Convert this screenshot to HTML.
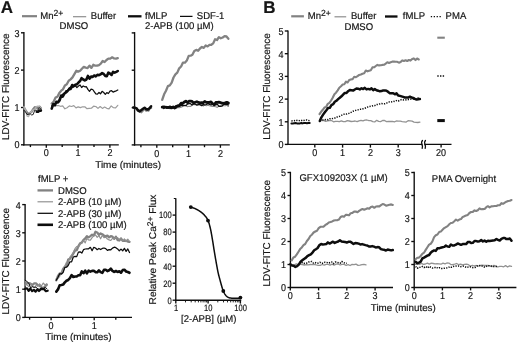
<!DOCTYPE html>
<html><head><meta charset="utf-8"><title>Figure</title>
<style>
html,body{margin:0;padding:0;background:#fff;}
body{width:520px;height:347px;overflow:hidden;font-family:"Liberation Sans",sans-serif;}
svg{display:block;}
svg text{text-rendering:geometricPrecision;font-family:"Liberation Sans",sans-serif;fill:#141414;stroke:#141414;stroke-width:0.18;}
</style></head><body>
<svg width="520" height="347" viewBox="0 0 520 347">
<defs><filter id="bl" x="0" y="0" width="520" height="347" filterUnits="userSpaceOnUse"><feGaussianBlur stdDeviation="0.42"/></filter></defs>
<rect width="520" height="347" fill="#ffffff"/>
<g filter="url(#bl)">
<rect width="520" height="347" fill="#ffffff"/>
<text transform="translate(0.8 12.8) scale(1.0 1)" text-anchor="start" font-size="17" font-weight="bold">A</text>
<text transform="translate(263.3 12.8) scale(1.0 1)" text-anchor="start" font-size="17" font-weight="bold">B</text>
<line x1="22.0" y1="16.2" x2="37.0" y2="16.2" stroke="#828282" stroke-width="2.2"/>
<text transform="translate(40.2 18.6) scale(0.975 1)" text-anchor="start" font-size="9.8" >Mn<tspan dy="-2.7" font-size="8.8">2+</tspan></text>
<line x1="73.0" y1="16.7" x2="86.2" y2="16.7" stroke="#8e8e8e" stroke-width="1.2"/>
<text transform="translate(90.8 18.6) scale(0.975 1)" text-anchor="start" font-size="9.8" >Buffer</text>
<text transform="translate(59.6 29.3) scale(0.975 1)" text-anchor="start" font-size="9.8" >DMSO</text>
<line x1="128.0" y1="16.3" x2="141.5" y2="16.3" stroke="#0c0c0c" stroke-width="2.3"/>
<text transform="translate(145.0 18.6) scale(0.975 1)" text-anchor="start" font-size="9.8" >fMLP</text>
<line x1="180.0" y1="16.4" x2="192.5" y2="16.4" stroke="#0c0c0c" stroke-width="1.25"/>
<text transform="translate(196.8 18.6) scale(0.975 1)" text-anchor="start" font-size="9.8" >SDF-1</text>
<text transform="translate(145.0 29.3) scale(0.975 1)" text-anchor="start" font-size="9.8" >2-APB (100 µM)</text>
<line x1="23.9" y1="32.1" x2="23.9" y2="145.5" stroke="#0c0c0c" stroke-width="1.35"/>
<line x1="23.2" y1="144.8" x2="118.8" y2="144.8" stroke="#0c0c0c" stroke-width="1.35"/>
<line x1="21.0" y1="144.8" x2="23.9" y2="144.8" stroke="#0c0c0c" stroke-width="1.35"/>
<text transform="translate(19.5 148.4) scale(0.9 1)" text-anchor="end" font-size="10.0" >0</text>
<line x1="21.0" y1="107.5" x2="23.9" y2="107.5" stroke="#0c0c0c" stroke-width="1.35"/>
<text transform="translate(19.5 111.4) scale(0.9 1)" text-anchor="end" font-size="10.0" >1</text>
<line x1="21.0" y1="70.1" x2="23.9" y2="70.1" stroke="#0c0c0c" stroke-width="1.35"/>
<text transform="translate(19.5 74.4) scale(0.9 1)" text-anchor="end" font-size="10.0" >2</text>
<line x1="21.0" y1="32.8" x2="23.9" y2="32.8" stroke="#0c0c0c" stroke-width="1.35"/>
<text transform="translate(19.5 37.4) scale(0.9 1)" text-anchor="end" font-size="10.0" >3</text>
<line x1="46.3" y1="144.8" x2="46.3" y2="147.7" stroke="#0c0c0c" stroke-width="1.35"/>
<text transform="translate(46.3 156.4) scale(0.9 1)" text-anchor="middle" font-size="10.0" >0</text>
<line x1="78.1" y1="144.8" x2="78.1" y2="147.7" stroke="#0c0c0c" stroke-width="1.35"/>
<text transform="translate(78.1 156.4) scale(0.9 1)" text-anchor="middle" font-size="10.0" >1</text>
<line x1="109.9" y1="144.8" x2="109.9" y2="147.7" stroke="#0c0c0c" stroke-width="1.35"/>
<text transform="translate(109.9 156.4) scale(0.9 1)" text-anchor="middle" font-size="10.0" >2</text>
<line x1="30.4" y1="144.8" x2="30.4" y2="147.1" stroke="#0c0c0c" stroke-width="1.35"/>
<line x1="62.2" y1="144.8" x2="62.2" y2="147.1" stroke="#0c0c0c" stroke-width="1.35"/>
<line x1="94.0" y1="144.8" x2="94.0" y2="147.1" stroke="#0c0c0c" stroke-width="1.35"/>
<text transform="translate(9.0 86.7) rotate(-90) scale(1.005 1)" text-anchor="middle" font-size="9.9">LDV-FITC Fluorescence</text>
<text transform="translate(95.2 167.7) scale(1.015 1)" text-anchor="start" font-size="9.8" >Time (minutes)</text>
<path d="M24.0 107.6L25.6 110.4L27.1 112.7L28.6 114.1L30.2 112.9L31.7 111.6L33.2 109.2L34.8 107.1L36.3 107.7L37.8 107.9L39.4 106.6L40.9 108.3" stroke="#828282" stroke-width="2.3" fill="none" stroke-linejoin="round" stroke-linecap="round"/>
<path d="M36.8 111.8L38.1 111.8L39.5 110.6L40.9 110.6" stroke="#0c0c0c" stroke-width="2.6" fill="none" stroke-linejoin="round" stroke-linecap="round"/>
<path d="M24.0 106.6L25.6 110.2L27.1 116.1L28.6 116.6L30.2 112.8L31.7 111.2L33.2 109.8L34.8 109.2L36.3 106.7L37.8 106.1L39.4 106.6L40.9 108.6" stroke="#b0b0b0" stroke-width="1.3" fill="none" stroke-linejoin="round" stroke-linecap="round"/>
<path d="M24.0 110.3L25.6 112.1L27.1 114.6L28.6 114.3L30.2 113.8L31.7 115.0L33.2 114.5L34.8 110.1L36.3 110.3L37.8 110.1L39.4 107.6L40.9 109.2" stroke="#0c0c0c" stroke-width="0.9" fill="none" stroke-linejoin="round" stroke-linecap="round"/>
<path d="M51.7 106.0L53.9 105.7L56.1 105.7L58.3 105.5L60.5 106.3L62.7 105.9L64.9 108.8L67.1 107.7L69.3 105.9L71.5 106.5L73.8 105.6L76.0 107.9L78.2 106.9L80.4 107.6L82.6 106.8L84.8 106.8L87.0 108.7L89.2 108.4L91.4 108.2L93.6 106.2L95.8 106.5L98.0 108.4L100.2 106.5L102.4 108.4L104.6 107.0L106.8 108.3L109.0 108.8L111.2 105.9L113.4 107.7L115.6 107.8L117.8 105.3" stroke="#9c9c9c" stroke-width="1.2" fill="none" stroke-linejoin="round" stroke-linecap="round"/>
<path d="M51.7 106.2L53.3 104.1L54.9 103.7L56.4 103.1L58.0 102.6L59.6 98.3L61.2 97.0L62.7 94.0L64.3 93.8L65.9 90.7L67.5 91.2L69.0 88.1L70.6 87.1L72.2 87.7L73.8 86.8L75.3 85.7L76.9 87.5L78.5 86.1L80.1 85.0L81.6 87.5L83.2 86.0L84.8 86.8L86.4 86.7L87.9 89.4L89.5 91.3L91.1 89.2L92.7 89.5L94.2 91.7L95.8 93.9L97.4 94.1L99.0 92.5L100.5 93.8L102.1 91.3L103.7 92.5L105.3 94.3L106.8 92.6L108.4 93.5L110.0 91.1L111.6 90.7L113.1 92.1L114.7 91.4L116.3 90.8L117.8 90.0" stroke="#0c0c0c" stroke-width="1.25" fill="none" stroke-linejoin="round" stroke-linecap="round"/>
<path d="M51.7 103.6L53.6 101.8L55.5 97.6L57.4 96.8L59.3 92.9L61.2 90.7L63.0 89.3L64.9 85.4L66.8 84.3L68.7 80.7L70.6 79.4L72.5 77.4L74.4 74.1L76.3 70.7L78.2 71.6L80.1 70.8L81.9 68.8L83.8 66.9L85.7 67.6L87.6 68.0L89.5 65.6L91.4 67.9L93.3 64.8L95.2 65.7L97.1 65.7L99.0 65.1L100.8 63.7L102.7 61.0L104.6 62.0L106.5 60.0L108.4 58.6L110.3 58.6L112.2 57.3L114.1 58.4L116.0 58.6L117.8 58.1" stroke="#828282" stroke-width="2.3" fill="none" stroke-linejoin="round" stroke-linecap="round"/>
<path d="M51.7 108.6L53.3 104.1L54.9 105.3L56.4 101.8L58.0 102.3L59.6 100.4L61.2 95.5L62.7 96.6L64.3 93.6L65.9 92.5L67.5 91.0L69.0 89.3L70.6 88.9L72.2 85.0L73.8 86.2L75.3 84.7L76.9 84.3L78.5 82.5L80.1 81.0L81.6 78.2L83.2 79.5L84.8 80.4L86.4 79.5L87.9 75.9L89.5 78.7L91.1 76.6L92.7 76.9L94.2 75.5L95.8 76.4L97.4 74.8L99.0 75.2L100.5 74.4L102.1 73.1L103.7 74.0L105.3 75.9L106.8 76.3L108.4 72.6L110.0 73.6L111.6 74.9L113.1 71.8L114.7 72.6L116.3 71.9L117.8 71.0" stroke="#0c0c0c" stroke-width="2.6" fill="none" stroke-linejoin="round" stroke-linecap="round"/>
<line x1="134.6" y1="32.1" x2="134.6" y2="145.6" stroke="#0c0c0c" stroke-width="1.35"/>
<line x1="133.9" y1="144.9" x2="229.8" y2="144.9" stroke="#0c0c0c" stroke-width="1.35"/>
<line x1="131.7" y1="144.9" x2="134.6" y2="144.9" stroke="#0c0c0c" stroke-width="1.35"/>
<line x1="131.7" y1="107.6" x2="134.6" y2="107.6" stroke="#0c0c0c" stroke-width="1.35"/>
<line x1="131.7" y1="70.2" x2="134.6" y2="70.2" stroke="#0c0c0c" stroke-width="1.35"/>
<line x1="131.7" y1="32.9" x2="134.6" y2="32.9" stroke="#0c0c0c" stroke-width="1.35"/>
<line x1="156.8" y1="144.9" x2="156.8" y2="147.8" stroke="#0c0c0c" stroke-width="1.35"/>
<text transform="translate(156.8 156.5) scale(0.9 1)" text-anchor="middle" font-size="10.0" >0</text>
<line x1="188.6" y1="144.9" x2="188.6" y2="147.8" stroke="#0c0c0c" stroke-width="1.35"/>
<text transform="translate(188.6 156.5) scale(0.9 1)" text-anchor="middle" font-size="10.0" >1</text>
<line x1="220.4" y1="144.9" x2="220.4" y2="147.8" stroke="#0c0c0c" stroke-width="1.35"/>
<text transform="translate(220.4 156.5) scale(0.9 1)" text-anchor="middle" font-size="10.0" >2</text>
<line x1="140.9" y1="144.9" x2="140.9" y2="147.2" stroke="#0c0c0c" stroke-width="1.35"/>
<line x1="172.7" y1="144.9" x2="172.7" y2="147.2" stroke="#0c0c0c" stroke-width="1.35"/>
<line x1="204.5" y1="144.9" x2="204.5" y2="147.2" stroke="#0c0c0c" stroke-width="1.35"/>
<path d="M133.9 107.7L135.1 108.3L136.4 108.1L137.6 110.4L138.8 111.1L140.0 111.0L141.3 112.2L142.5 110.8L143.7 109.7L144.9 108.5L146.2 110.6L147.4 110.0L148.6 110.6L149.8 108.0L151.1 107.9" stroke="#828282" stroke-width="2.3" fill="none" stroke-linejoin="round" stroke-linecap="round"/>
<path d="M133.3 107.6L134.9 107.7L136.5 108.3L138.1 110.4L139.7 111.4L141.4 110.0L143.0 108.8L144.6 107.7L146.2 109.2L147.8 109.6L149.5 108.3L151.1 106.3" stroke="#0c0c0c" stroke-width="2.5" fill="none" stroke-linejoin="round" stroke-linecap="round"/>
<path d="M162.2 107.4L163.8 106.6L165.4 106.6L166.9 106.3L168.5 107.9L170.1 108.2L171.7 108.5L173.2 108.4L174.8 107.2L176.4 108.3L178.0 107.4L179.5 107.6L181.1 107.1L182.7 106.4L184.3 105.1L185.8 105.3L187.4 106.7L189.0 106.3L190.6 106.5L192.1 104.8L193.7 104.6L195.3 104.6L196.9 104.6L198.4 104.8L200.0 104.4L201.6 104.7L203.2 106.1L204.7 105.0L206.3 105.7L207.9 105.2L209.5 105.7L211.0 106.1L212.6 106.5L214.2 106.5L215.8 106.8L217.3 107.4L218.9 105.9L220.5 105.6L222.1 105.1L223.6 105.6L225.2 105.8L226.8 105.2L228.4 106.5" stroke="#8e8e8e" stroke-width="1.15" fill="none" stroke-linejoin="round" stroke-linecap="round"/>
<path d="M162.2 99.9L164.1 94.3L166.0 90.7L167.9 86.1L169.8 85.4L171.7 82.7L173.5 77.5L175.4 74.3L177.3 72.6L179.2 68.3L181.1 66.5L183.0 62.6L184.9 62.7L186.8 60.6L188.7 55.8L190.6 55.7L192.4 54.7L194.3 51.0L196.2 49.9L198.1 50.8L200.0 48.5L201.9 46.9L203.8 47.9L205.7 45.4L207.6 46.4L209.5 44.9L211.3 44.8L213.2 43.4L215.1 39.2L217.0 40.0L218.9 37.1L220.8 38.3L222.7 37.5L224.6 36.1L226.5 36.5L228.4 38.8" stroke="#828282" stroke-width="2.3" fill="none" stroke-linejoin="round" stroke-linecap="round"/>
<path d="M162.2 106.5L163.8 108.6L165.4 107.3L166.9 108.4L168.5 106.7L170.1 108.7L171.7 106.9L173.2 106.9L174.8 106.3L176.4 105.5L178.0 106.7L179.5 106.4L181.1 105.1L182.7 105.7L184.3 105.7L185.8 105.7L187.4 104.1L189.0 103.7L190.6 103.7L192.1 105.1L193.7 103.6L195.3 104.3L196.9 105.1L198.4 104.7L200.0 104.7L201.6 105.6L203.2 104.6L204.7 104.9L206.3 104.5L207.9 103.7L209.5 104.3L211.0 105.0L212.6 104.2L214.2 103.8L215.8 105.0L217.3 104.2L218.9 106.3L220.5 106.3L222.1 106.2L223.6 104.3L225.2 104.3L226.8 104.1L228.4 105.0" stroke="#0c0c0c" stroke-width="1.25" fill="none" stroke-linejoin="round" stroke-linecap="round"/>
<path d="M162.2 107.2L163.8 107.0L165.4 107.2L166.9 107.3L168.5 107.5L170.1 106.9L171.7 107.9L173.2 107.0L174.8 108.0L176.4 106.6L178.0 105.7L179.5 105.4L181.1 103.2L182.7 103.5L184.3 102.0L185.8 101.1L187.4 102.6L189.0 101.2L190.6 101.1L192.1 101.4L193.7 103.1L195.3 102.3L196.9 101.7L198.4 102.4L200.0 102.8L201.6 102.6L203.2 102.8L204.7 101.4L206.3 102.4L207.9 102.5L209.5 102.3L211.0 101.8L212.6 103.7L214.2 104.8L215.8 102.5L217.3 102.3L218.9 102.2L220.5 102.6L222.1 103.2L223.6 103.4L225.2 102.9L226.8 102.3L228.4 103.1" stroke="#0c0c0c" stroke-width="2.8" fill="none" stroke-linejoin="round" stroke-linecap="round"/>
<text transform="translate(38.0 181.6) scale(0.975 1)" text-anchor="start" font-size="9.8" >fMLP +</text>
<line x1="37.5" y1="190.4" x2="53.0" y2="190.4" stroke="#828282" stroke-width="2.3"/>
<text transform="translate(58.0 193.9) scale(0.975 1)" text-anchor="start" font-size="9.8" >DMSO</text>
<line x1="37.5" y1="201.8" x2="53.0" y2="201.8" stroke="#8e8e8e" stroke-width="1.15"/>
<text transform="translate(58.0 205.3) scale(0.975 1)" text-anchor="start" font-size="9.8" >2-APB (10 µM)</text>
<line x1="37.5" y1="213.3" x2="53.0" y2="213.3" stroke="#0c0c0c" stroke-width="1.25"/>
<text transform="translate(58.0 216.8) scale(0.975 1)" text-anchor="start" font-size="9.8" >2-APB (30 µM)</text>
<line x1="37.5" y1="224.8" x2="53.0" y2="224.8" stroke="#0c0c0c" stroke-width="2.6"/>
<text transform="translate(58.0 228.2) scale(0.975 1)" text-anchor="start" font-size="9.8" >2-APB (100 µM)</text>
<line x1="25.1" y1="203.9" x2="25.1" y2="318.0" stroke="#0c0c0c" stroke-width="1.35"/>
<line x1="24.5" y1="317.4" x2="132.0" y2="317.4" stroke="#0c0c0c" stroke-width="1.35"/>
<line x1="22.2" y1="317.4" x2="25.1" y2="317.4" stroke="#0c0c0c" stroke-width="1.35"/>
<text transform="translate(20.7 321.0) scale(0.9 1)" text-anchor="end" font-size="10.0" >0</text>
<line x1="22.2" y1="289.2" x2="25.1" y2="289.2" stroke="#0c0c0c" stroke-width="1.35"/>
<text transform="translate(20.7 293.0) scale(0.9 1)" text-anchor="end" font-size="10.0" >1</text>
<line x1="22.2" y1="261.0" x2="25.1" y2="261.0" stroke="#0c0c0c" stroke-width="1.35"/>
<text transform="translate(20.7 265.0) scale(0.9 1)" text-anchor="end" font-size="10.0" >2</text>
<line x1="22.2" y1="232.8" x2="25.1" y2="232.8" stroke="#0c0c0c" stroke-width="1.35"/>
<text transform="translate(20.7 237.0) scale(0.9 1)" text-anchor="end" font-size="10.0" >3</text>
<line x1="22.2" y1="204.6" x2="25.1" y2="204.6" stroke="#0c0c0c" stroke-width="1.35"/>
<text transform="translate(20.7 209.0) scale(0.9 1)" text-anchor="end" font-size="10.0" >4</text>
<line x1="51.1" y1="317.4" x2="51.1" y2="320.3" stroke="#0c0c0c" stroke-width="1.35"/>
<text transform="translate(51.1 329.0) scale(0.9 1)" text-anchor="middle" font-size="10.0" >0</text>
<line x1="94.2" y1="317.4" x2="94.2" y2="320.3" stroke="#0c0c0c" stroke-width="1.35"/>
<text transform="translate(94.2 329.0) scale(0.9 1)" text-anchor="middle" font-size="10.0" >1</text>
<line x1="29.6" y1="317.4" x2="29.6" y2="319.7" stroke="#0c0c0c" stroke-width="1.35"/>
<line x1="72.7" y1="317.4" x2="72.7" y2="319.7" stroke="#0c0c0c" stroke-width="1.35"/>
<line x1="115.8" y1="317.4" x2="115.8" y2="319.7" stroke="#0c0c0c" stroke-width="1.35"/>
<text transform="translate(8.6 261.2) rotate(-90) scale(1.005 1)" text-anchor="middle" font-size="9.9">LDV-FITC Fluorescence</text>
<text transform="translate(78.5 340.2) scale(1.02 1)" text-anchor="middle" font-size="9.8" >Time (minutes)</text>
<path d="M25.2 284.8L27.0 283.2L28.8 283.1L30.6 283.8L32.4 284.9L34.2 283.3L36.0 283.4L37.8 285.0L39.6 285.8L41.4 287.2L43.2 288.3L45.0 286.5L46.8 284.8" stroke="#828282" stroke-width="2.3" fill="none" stroke-linejoin="round" stroke-linecap="round"/>
<path d="M25.2 280.9L27.0 284.9L28.8 286.7L30.6 283.2L32.4 286.7L34.2 287.7L36.0 285.5L37.8 286.3L39.6 283.8L41.4 286.0L43.2 283.0L45.0 285.0L46.8 283.8" stroke="#8e8e8e" stroke-width="1.15" fill="none" stroke-linejoin="round" stroke-linecap="round"/>
<path d="M25.2 280.3L27.0 281.5L28.8 283.2L30.6 287.8L32.4 286.6L34.2 287.3L36.0 287.1L37.8 289.0L39.6 289.2L41.4 288.1L43.2 288.8L45.0 287.4L46.8 288.6" stroke="#0c0c0c" stroke-width="1.0" fill="none" stroke-linejoin="round" stroke-linecap="round"/>
<path d="M25.2 288.7L27.0 288.3L28.7 290.8L30.4 288.5L32.1 291.1L33.9 289.9L35.6 291.6L37.3 289.4L39.0 291.0L40.8 289.2L42.5 288.9L44.2 289.2L45.9 291.2L47.7 290.7" stroke="#0c0c0c" stroke-width="2.2" fill="none" stroke-linejoin="round" stroke-linecap="round"/>
<path d="M56.3 280.4L58.0 275.9L59.7 273.5L61.4 273.7L63.1 269.0L64.8 266.8L66.5 266.1L68.2 259.6L69.9 258.9L71.6 256.5L73.3 253.6L75.0 250.6L76.7 250.2L78.4 246.2L80.1 243.4L81.8 242.6L83.5 239.8L85.2 238.5L86.9 236.2L88.6 237.4L90.4 236.1L92.1 234.7L93.8 235.5L95.5 231.8L97.2 232.5L98.9 234.8L100.6 233.5L102.3 234.2L104.0 235.6L105.7 236.3L107.4 235.6L109.1 237.4L110.8 236.2L112.5 236.7L114.2 238.9L115.9 236.7L117.6 240.1L119.3 240.5L121.0 238.4L122.7 240.8L124.4 240.9L126.1 240.7L127.8 241.6L129.5 241.9" stroke="#828282" stroke-width="2.3" fill="none" stroke-linejoin="round" stroke-linecap="round"/>
<path d="M56.3 278.8L58.0 278.5L59.7 276.3L61.4 272.0L63.1 271.5L64.8 265.9L66.5 262.2L68.2 262.2L69.9 257.2L71.6 255.1L73.3 252.3L75.0 248.7L76.7 246.5L78.4 247.2L80.1 244.1L81.8 242.6L83.5 240.3L85.2 242.9L86.9 238.4L88.6 240.0L90.4 240.1L92.1 237.6L93.8 235.8L95.5 234.9L97.2 237.3L98.9 235.6L100.6 238.8L102.3 235.3L104.0 237.7L105.7 237.1L107.4 239.0L109.1 239.9L110.8 240.5L112.5 238.3L114.2 238.4L115.9 237.6L117.6 237.5L119.3 239.6L121.0 238.3L122.7 241.2L124.4 238.9L126.1 241.6L127.8 239.2L129.5 241.5" stroke="#8e8e8e" stroke-width="1.15" fill="none" stroke-linejoin="round" stroke-linecap="round"/>
<path d="M56.3 280.1L58.0 277.3L59.7 273.7L61.4 274.0L63.1 272.6L64.8 267.5L66.5 267.2L68.2 265.5L69.9 261.8L71.6 261.8L73.3 257.0L75.0 256.3L76.7 256.6L78.4 252.1L80.1 251.8L81.8 253.1L83.5 249.7L85.2 249.0L86.9 248.8L88.6 248.8L90.4 247.3L92.1 250.7L93.8 247.3L95.5 248.0L97.2 249.7L98.9 248.5L100.6 249.5L102.3 248.4L104.0 248.0L105.7 248.6L107.4 250.4L109.1 249.6L110.8 249.8L112.5 248.1L114.2 247.2L115.9 247.7L117.6 248.9L119.3 250.8L121.0 249.1L122.7 250.8L124.4 248.3L126.1 251.4L127.8 248.9L129.5 252.5" stroke="#0c0c0c" stroke-width="1.25" fill="none" stroke-linejoin="round" stroke-linecap="round"/>
<path d="M56.3 291.6L58.0 289.4L59.7 285.3L61.4 285.0L63.1 284.6L64.8 282.4L66.5 280.8L68.2 280.0L69.9 278.1L71.6 275.2L73.3 277.0L75.0 276.5L76.7 276.5L78.4 275.3L80.1 275.2L81.8 271.4L83.5 273.2L85.2 270.6L86.9 273.4L88.6 270.6L90.4 271.6L92.1 270.9L93.8 270.7L95.5 272.1L97.2 272.3L98.9 270.4L100.6 272.1L102.3 272.8L104.0 269.8L105.7 269.7L107.4 271.1L109.1 270.3L110.8 268.6L112.5 270.9L114.2 271.9L115.9 271.0L117.6 271.9L119.3 271.3L121.0 272.7L122.7 270.1L124.4 269.7L126.1 271.5L127.8 272.0L129.5 272.8" stroke="#0c0c0c" stroke-width="2.6" fill="none" stroke-linejoin="round" stroke-linecap="round"/>
<line x1="175.8" y1="198.2" x2="175.8" y2="300.8" stroke="#0c0c0c" stroke-width="1.35"/>
<line x1="175.2" y1="300.2" x2="241.2" y2="300.2" stroke="#0c0c0c" stroke-width="1.35"/>
<line x1="173.8" y1="198.5" x2="175.8" y2="198.5" stroke="#0c0c0c" stroke-width="1"/>
<line x1="172.6" y1="300.2" x2="175.8" y2="300.2" stroke="#0c0c0c" stroke-width="1.35"/>
<text transform="translate(171.6 303.5) scale(0.82 1)" text-anchor="end" font-size="9.2" >0</text>
<line x1="172.6" y1="283.2" x2="175.8" y2="283.2" stroke="#0c0c0c" stroke-width="1.35"/>
<text transform="translate(171.6 286.5) scale(0.82 1)" text-anchor="end" font-size="9.2" >20</text>
<line x1="172.6" y1="266.2" x2="175.8" y2="266.2" stroke="#0c0c0c" stroke-width="1.35"/>
<text transform="translate(171.6 269.5) scale(0.82 1)" text-anchor="end" font-size="9.2" >40</text>
<line x1="172.6" y1="249.1" x2="175.8" y2="249.1" stroke="#0c0c0c" stroke-width="1.35"/>
<text transform="translate(171.6 252.4) scale(0.82 1)" text-anchor="end" font-size="9.2" >60</text>
<line x1="172.6" y1="232.1" x2="175.8" y2="232.1" stroke="#0c0c0c" stroke-width="1.35"/>
<text transform="translate(171.6 235.4) scale(0.82 1)" text-anchor="end" font-size="9.2" >80</text>
<line x1="172.6" y1="215.1" x2="175.8" y2="215.1" stroke="#0c0c0c" stroke-width="1.35"/>
<text transform="translate(171.6 218.4) scale(0.82 1)" text-anchor="end" font-size="9.2" >100</text>
<line x1="175.8" y1="300.2" x2="175.8" y2="303.6" stroke="#0c0c0c" stroke-width="1.35"/>
<text transform="translate(176.0 311.4) scale(0.82 1)" text-anchor="middle" font-size="9.2" >1</text>
<line x1="185.5" y1="300.2" x2="185.5" y2="302.4" stroke="#0c0c0c" stroke-width="0.9"/>
<line x1="191.2" y1="300.2" x2="191.2" y2="302.4" stroke="#0c0c0c" stroke-width="0.9"/>
<line x1="195.2" y1="300.2" x2="195.2" y2="302.4" stroke="#0c0c0c" stroke-width="0.9"/>
<line x1="198.4" y1="300.2" x2="198.4" y2="302.4" stroke="#0c0c0c" stroke-width="0.9"/>
<line x1="200.9" y1="300.2" x2="200.9" y2="302.4" stroke="#0c0c0c" stroke-width="0.9"/>
<line x1="203.1" y1="300.2" x2="203.1" y2="302.4" stroke="#0c0c0c" stroke-width="0.9"/>
<line x1="205.0" y1="300.2" x2="205.0" y2="302.4" stroke="#0c0c0c" stroke-width="0.9"/>
<line x1="206.6" y1="300.2" x2="206.6" y2="302.4" stroke="#0c0c0c" stroke-width="0.9"/>
<line x1="208.1" y1="300.2" x2="208.1" y2="303.6" stroke="#0c0c0c" stroke-width="1.35"/>
<text transform="translate(208.3 311.4) scale(0.82 1)" text-anchor="middle" font-size="9.2" >10</text>
<line x1="217.8" y1="300.2" x2="217.8" y2="302.4" stroke="#0c0c0c" stroke-width="0.9"/>
<line x1="223.5" y1="300.2" x2="223.5" y2="302.4" stroke="#0c0c0c" stroke-width="0.9"/>
<line x1="227.5" y1="300.2" x2="227.5" y2="302.4" stroke="#0c0c0c" stroke-width="0.9"/>
<line x1="230.7" y1="300.2" x2="230.7" y2="302.4" stroke="#0c0c0c" stroke-width="0.9"/>
<line x1="233.2" y1="300.2" x2="233.2" y2="302.4" stroke="#0c0c0c" stroke-width="0.9"/>
<line x1="235.4" y1="300.2" x2="235.4" y2="302.4" stroke="#0c0c0c" stroke-width="0.9"/>
<line x1="237.3" y1="300.2" x2="237.3" y2="302.4" stroke="#0c0c0c" stroke-width="0.9"/>
<line x1="238.9" y1="300.2" x2="238.9" y2="302.4" stroke="#0c0c0c" stroke-width="0.9"/>
<line x1="240.4" y1="300.2" x2="240.4" y2="303.6" stroke="#0c0c0c" stroke-width="1.35"/>
<text transform="translate(240.6 311.4) scale(0.82 1)" text-anchor="middle" font-size="9.2" >100</text>
<text transform="translate(155.9 249.5) rotate(-90) scale(1.025 1)" text-anchor="middle" font-size="9.9">Relative Peak Ca<tspan dy="-3" font-size="8.3">2+</tspan><tspan dy="3"> Flux</tspan></text>
<text transform="translate(208.8 321.8) scale(0.975 1)" text-anchor="middle" font-size="9.8" >[2-APB] (µM)</text>
<path d="M190.60 207.00L190.85 207.09L191.10 207.18L191.35 207.26L191.60 207.35L191.85 207.43L192.10 207.51L192.35 207.59L192.60 207.68L192.85 207.76L193.10 207.84L193.35 207.93L193.60 208.02L193.85 208.12L194.10 208.21L194.35 208.31L194.60 208.42L194.85 208.53L195.10 208.65L195.35 208.76L195.60 208.88L195.85 209.00L196.10 209.13L196.35 209.25L196.60 209.37L196.85 209.50L197.10 209.63L197.35 209.76L197.60 209.90L197.85 210.03L198.10 210.17L198.35 210.32L198.60 210.46L198.85 210.61L199.10 210.77L199.35 210.93L199.60 211.09L199.85 211.26L200.10 211.43L200.35 211.61L200.60 211.79L200.85 211.97L201.10 212.16L201.35 212.35L201.60 212.54L201.85 212.75L202.10 212.95L202.35 213.17L202.60 213.39L202.85 213.61L203.10 213.84L203.35 214.08L203.60 214.33L203.85 214.59L204.10 214.86L204.35 215.13L204.60 215.41L204.85 215.69L205.10 215.97L205.35 216.26L205.60 216.54L205.85 216.84L206.10 217.15L206.35 217.48L206.60 217.84L206.85 218.22L207.10 218.62L207.35 219.07L207.60 219.55L207.85 220.07L208.10 220.63L208.35 221.27L208.60 221.96L208.85 222.72L209.10 223.54L209.35 224.41L209.60 225.33L209.85 226.29L210.10 227.30L210.35 228.35L210.60 229.44L210.85 230.63L211.10 231.91L211.35 233.27L211.60 234.69L211.85 236.14L212.10 237.63L212.35 239.11L212.60 240.60L212.85 242.13L213.10 243.71L213.35 245.32L213.60 246.94L213.85 248.55L214.10 250.14L214.35 251.70L214.60 253.20L214.85 254.70L215.10 256.17L215.35 257.62L215.60 259.06L215.85 260.49L216.10 261.89L216.35 263.28L216.60 264.66L216.85 266.05L217.10 267.42L217.35 268.77L217.60 270.08L217.85 271.34L218.10 272.54L218.35 273.67L218.60 274.72L218.85 275.72L219.10 276.67L219.35 277.60L219.60 278.51L219.85 279.41L220.10 280.33L220.35 281.26L220.60 282.20L220.85 283.14L221.10 284.06L221.35 284.96L221.60 285.83L221.85 286.66L222.10 287.48L222.35 288.27L222.60 289.04L222.85 289.75L223.10 290.42L223.35 291.01L223.60 291.58L223.85 292.12L224.10 292.65L224.35 293.14L224.60 293.61L224.85 294.05L225.10 294.45L225.35 294.81L225.60 295.12L225.85 295.42L226.10 295.69L226.35 295.95L226.60 296.19L226.85 296.42L227.10 296.63L227.35 296.82L227.60 297.00L227.85 297.16L228.10 297.30L228.35 297.44L228.60 297.56L228.85 297.66L229.10 297.75L229.35 297.83L229.60 297.90L229.85 297.96L230.10 298.01L230.35 298.04L230.60 298.08L230.85 298.10L231.10 298.12L231.35 298.14L231.60 298.15L231.85 298.16L232.10 298.17L232.35 298.17L232.60 298.18L232.85 298.19L233.10 298.20L233.35 298.22L233.60 298.23L233.85 298.23L234.10 298.24L234.35 298.25L234.60 298.25L234.85 298.25L235.10 298.26L235.35 298.26L235.60 298.26L235.85 298.26L236.10 298.25L236.35 298.25L236.60 298.25L236.85 298.25L237.10 298.24L237.35 298.24L237.60 298.23L237.85 298.23L238.10 298.23L238.35 298.22L238.60 298.22L238.85 298.21L239.10 298.21L239.35 298.21L239.60 298.20L239.85 298.20L240.10 298.20L240.35 298.20" stroke="#0c0c0c" stroke-width="1.5" fill="none" stroke-linejoin="round" stroke-linecap="round"/>
<circle cx="190.8" cy="207.1" r="1.9" fill="#0c0c0c"/>
<circle cx="208.0" cy="220.6" r="1.9" fill="#0c0c0c"/>
<circle cx="223.3" cy="291.0" r="1.9" fill="#0c0c0c"/>
<circle cx="240.4" cy="297.6" r="1.9" fill="#0c0c0c"/>
<line x1="291.2" y1="16.3" x2="303.9" y2="16.3" stroke="#828282" stroke-width="2.2"/>
<text transform="translate(307.8 19.0) scale(0.975 1)" text-anchor="start" font-size="9.8" >Mn<tspan dy="-2.7" font-size="8.8">2+</tspan></text>
<line x1="334.5" y1="16.8" x2="346.2" y2="16.8" stroke="#8e8e8e" stroke-width="1.2"/>
<text transform="translate(351.0 19.0) scale(0.975 1)" text-anchor="start" font-size="9.8" >Buffer</text>
<text transform="translate(344.5 30.0) scale(0.975 1)" text-anchor="start" font-size="9.8" >DMSO</text>
<line x1="385.0" y1="16.5" x2="397.5" y2="16.5" stroke="#0c0c0c" stroke-width="2.3"/>
<text transform="translate(402.8 19.0) scale(0.975 1)" text-anchor="start" font-size="9.8" >fMLP</text>
<line x1="430.8" y1="16.7" x2="441.0" y2="16.7" stroke="#0c0c0c" stroke-width="1.2" stroke-dasharray="1.3 1.6"/>
<text transform="translate(445.6 19.0) scale(0.975 1)" text-anchor="start" font-size="9.8" >PMA</text>
<line x1="288.0" y1="30.4" x2="288.0" y2="145.1" stroke="#0c0c0c" stroke-width="1.35"/>
<line x1="287.4" y1="144.4" x2="451.5" y2="144.4" stroke="#0c0c0c" stroke-width="1.35"/>
<rect x="422.5" y="142.5" width="1.9" height="4" fill="#fff"/>
<path d="M422.4 140.5 q-1.5 1.9 -0.5 3.9 q1.1 2 0.3 3.9 M425.4 140.5 q-1.5 1.9 -0.5 3.9 q1.1 2 0.3 3.9" stroke="#0c0c0c" stroke-width="1.35" fill="none" stroke-linecap="round"/>
<line x1="284.8" y1="144.4" x2="288.0" y2="144.4" stroke="#0c0c0c" stroke-width="1.35"/>
<text transform="translate(283.6 148.0) scale(0.9 1)" text-anchor="end" font-size="10.0" >0</text>
<line x1="284.8" y1="121.8" x2="288.0" y2="121.8" stroke="#0c0c0c" stroke-width="1.35"/>
<text transform="translate(283.6 125.5) scale(0.9 1)" text-anchor="end" font-size="10.0" >1</text>
<line x1="284.8" y1="99.1" x2="288.0" y2="99.1" stroke="#0c0c0c" stroke-width="1.35"/>
<text transform="translate(283.6 102.9) scale(0.9 1)" text-anchor="end" font-size="10.0" >2</text>
<line x1="284.8" y1="76.4" x2="288.0" y2="76.4" stroke="#0c0c0c" stroke-width="1.35"/>
<text transform="translate(283.6 80.3) scale(0.9 1)" text-anchor="end" font-size="10.0" >3</text>
<line x1="284.8" y1="53.7" x2="288.0" y2="53.7" stroke="#0c0c0c" stroke-width="1.35"/>
<text transform="translate(283.6 57.7) scale(0.9 1)" text-anchor="end" font-size="10.0" >4</text>
<line x1="284.8" y1="31.0" x2="288.0" y2="31.0" stroke="#0c0c0c" stroke-width="1.35"/>
<text transform="translate(283.6 35.1) scale(0.9 1)" text-anchor="end" font-size="10.0" >5</text>
<line x1="314.8" y1="144.4" x2="314.8" y2="147.6" stroke="#0c0c0c" stroke-width="1.35"/>
<text transform="translate(314.8 156.2) scale(0.9 1)" text-anchor="middle" font-size="10.0" >0</text>
<line x1="342.6" y1="144.4" x2="342.6" y2="147.6" stroke="#0c0c0c" stroke-width="1.35"/>
<text transform="translate(342.6 156.2) scale(0.9 1)" text-anchor="middle" font-size="10.0" >1</text>
<line x1="370.4" y1="144.4" x2="370.4" y2="147.6" stroke="#0c0c0c" stroke-width="1.35"/>
<text transform="translate(370.4 156.2) scale(0.9 1)" text-anchor="middle" font-size="10.0" >2</text>
<line x1="398.2" y1="144.4" x2="398.2" y2="147.6" stroke="#0c0c0c" stroke-width="1.35"/>
<text transform="translate(398.2 156.2) scale(0.9 1)" text-anchor="middle" font-size="10.0" >3</text>
<line x1="441.1" y1="144.4" x2="441.1" y2="147.6" stroke="#0c0c0c" stroke-width="1.35"/>
<text transform="translate(441.1 156.2) scale(0.9 1)" text-anchor="middle" font-size="10.0" >20</text>
<text transform="translate(270.2 86.5) rotate(-90) scale(1.005 1)" text-anchor="middle" font-size="9.9">LDV-FITC Fluorescence</text>
<path d="M291.4 123.4L292.8 123.4L294.2 123.2L295.6 123.0L297.0 123.4L298.4 123.5L299.9 123.4L301.3 123.0L302.7 123.4L304.1 122.9L305.5 122.9L306.9 123.3L308.3 123.1L309.7 123.1" stroke="#0c0c0c" stroke-width="2.0" fill="none" stroke-linejoin="round" stroke-linecap="round"/>
<path d="M291.4 120.9L292.8 120.8L294.2 120.7L295.6 120.1L297.0 120.4L298.4 120.3L299.9 120.9L301.3 120.6L302.7 120.1L304.1 120.4L305.5 119.9L306.9 119.9L308.3 120.4L309.7 120.8" stroke="#0c0c0c" stroke-width="1.5" fill="none" stroke-linejoin="round" stroke-dasharray="1.25 1.25"/>
<path d="M319.8 120.5L321.7 120.5L323.7 120.3L325.6 121.3L327.6 120.9L329.6 120.5L331.5 120.5L333.5 121.8L335.5 121.3L337.4 121.4L339.4 121.7L341.4 120.9L343.3 121.6L345.3 121.7L347.3 120.7L349.2 121.0L351.2 121.5L353.1 121.4L355.1 121.0L357.1 121.7L359.0 120.8L361.0 120.4L363.0 120.9L364.9 120.2L366.9 120.0L368.9 120.6L370.8 120.6L372.8 121.6L374.7 121.9L376.7 120.3L378.7 121.3L380.6 121.6L382.6 120.5L384.6 120.5L386.5 121.6L388.5 121.4L390.5 121.5L392.4 121.4L394.4 121.8L396.3 121.0L398.3 121.2L400.3 121.2L402.2 121.6L404.2 121.8L406.2 122.1L408.1 120.7L410.1 120.8L412.1 121.2L414.0 122.1L416.0 122.3L417.9 122.5L419.9 122.2" stroke="#929292" stroke-width="1.3" fill="none" stroke-linejoin="round" stroke-linecap="round"/>
<path d="M319.8 120.6L321.4 120.4L323.1 119.9L324.8 119.7L326.4 119.4L328.1 119.7L329.8 118.7L331.4 118.7L333.1 118.4L334.8 118.1L336.4 117.1L338.1 116.9L339.8 116.2L341.5 115.3L343.1 114.5L344.8 113.9L346.5 114.1L348.1 113.7L349.8 113.0L351.5 112.1L353.1 111.2L354.8 110.7L356.5 110.0L358.1 109.8L359.8 109.3L361.5 109.2L363.2 108.7L364.8 108.3L366.5 107.5L368.2 106.9L369.8 106.4L371.5 106.2L373.2 105.7L374.8 105.6L376.5 104.6L378.2 104.4L379.8 103.9L381.5 103.5L383.2 103.7L384.9 103.7L386.5 103.2L388.2 102.2L389.9 101.8L391.5 101.9L393.2 101.3L394.9 101.4L396.5 100.6L398.2 101.1L399.9 100.2L401.5 99.6L403.2 99.9L404.9 99.7L406.6 99.9L408.2 99.6L409.9 99.4L411.6 99.1L413.2 99.1L414.9 98.7L416.6 98.7L418.2 98.0L419.9 97.8" stroke="#0c0c0c" stroke-width="1.5" fill="none" stroke-linejoin="round" stroke-dasharray="1.25 1.25"/>
<path d="M319.5 114.2L321.1 111.8L322.8 109.8L324.4 107.6L326.1 107.1L327.8 103.8L329.4 102.8L331.1 100.5L332.7 97.8L334.4 94.2L336.0 92.7L337.7 90.4L339.3 87.7L341.0 86.3L342.7 84.6L344.3 84.2L346.0 81.6L347.6 82.5L349.3 79.9L350.9 79.4L352.6 79.3L354.2 76.8L355.9 77.2L357.6 76.1L359.2 74.9L360.9 74.5L362.5 73.7L364.2 73.2L365.8 70.5L367.5 71.4L369.1 70.7L370.8 70.2L372.4 67.4L374.1 67.3L375.8 66.0L377.4 64.9L379.1 65.4L380.7 65.3L382.4 64.9L384.0 64.8L385.7 63.6L387.3 62.3L389.0 63.0L390.7 62.3L392.3 61.6L394.0 61.5L395.6 61.7L397.3 61.8L398.9 62.7L400.6 62.0L402.2 60.4L403.9 61.0L405.6 60.2L407.2 61.0L408.9 60.0L410.5 60.6L412.2 59.0L413.8 58.4L415.5 60.1L417.1 58.5L418.8 59.5" stroke="#828282" stroke-width="2.1" fill="none" stroke-linejoin="round" stroke-linecap="round"/>
<path d="M319.8 121.0L321.4 117.3L323.1 114.6L324.8 112.2L326.4 110.2L328.1 107.9L329.8 107.8L331.4 105.1L333.1 104.2L334.8 101.8L336.4 100.8L338.1 99.1L339.8 97.7L341.5 96.3L343.1 94.6L344.8 92.9L346.5 93.0L348.1 91.2L349.8 90.0L351.5 90.3L353.1 90.6L354.8 89.5L356.5 88.5L358.1 88.7L359.8 89.4L361.5 88.3L363.2 89.0L364.8 87.9L366.5 89.4L368.2 88.9L369.8 89.4L371.5 88.4L373.2 90.2L374.8 89.1L376.5 90.2L378.2 90.7L379.8 91.3L381.5 91.1L383.2 90.4L384.9 90.4L386.5 90.8L388.2 91.9L389.9 93.2L391.5 93.2L393.2 93.2L394.9 94.3L396.5 93.4L398.2 95.5L399.9 95.9L401.5 96.4L403.2 96.9L404.9 97.5L406.6 97.6L408.2 97.6L409.9 96.7L411.6 97.6L413.2 97.9L414.9 98.8L416.6 99.6L418.2 99.2L419.9 99.1" stroke="#0c0c0c" stroke-width="2.5" fill="none" stroke-linejoin="round" stroke-linecap="round"/>
<line x1="437.3" y1="37.7" x2="444.8" y2="37.7" stroke="#828282" stroke-width="2.1"/>
<line x1="437.3" y1="76.0" x2="444.8" y2="76.0" stroke="#0c0c0c" stroke-width="1.4" stroke-dasharray="1.4 1.3"/>
<line x1="437.3" y1="120.6" x2="444.8" y2="120.6" stroke="#0c0c0c" stroke-width="3"/>
<line x1="290.4" y1="171.8" x2="290.4" y2="288.1" stroke="#0c0c0c" stroke-width="1.35"/>
<line x1="289.8" y1="287.5" x2="393.0" y2="287.5" stroke="#0c0c0c" stroke-width="1.35"/>
<line x1="287.5" y1="287.5" x2="290.4" y2="287.5" stroke="#0c0c0c" stroke-width="1.35"/>
<text transform="translate(286.0 291.1) scale(0.9 1)" text-anchor="end" font-size="10.0" >0</text>
<line x1="287.5" y1="264.5" x2="290.4" y2="264.5" stroke="#0c0c0c" stroke-width="1.35"/>
<text transform="translate(286.0 268.1) scale(0.9 1)" text-anchor="end" font-size="10.0" >1</text>
<line x1="287.5" y1="241.5" x2="290.4" y2="241.5" stroke="#0c0c0c" stroke-width="1.35"/>
<text transform="translate(286.0 245.1) scale(0.9 1)" text-anchor="end" font-size="10.0" >2</text>
<line x1="287.5" y1="218.5" x2="290.4" y2="218.5" stroke="#0c0c0c" stroke-width="1.35"/>
<text transform="translate(286.0 222.1) scale(0.9 1)" text-anchor="end" font-size="10.0" >3</text>
<line x1="287.5" y1="195.5" x2="290.4" y2="195.5" stroke="#0c0c0c" stroke-width="1.35"/>
<text transform="translate(286.0 199.1) scale(0.9 1)" text-anchor="end" font-size="10.0" >4</text>
<line x1="287.5" y1="172.5" x2="290.4" y2="172.5" stroke="#0c0c0c" stroke-width="1.35"/>
<text transform="translate(286.0 176.1) scale(0.9 1)" text-anchor="end" font-size="10.0" >5</text>
<line x1="290.3" y1="287.5" x2="290.3" y2="290.4" stroke="#0c0c0c" stroke-width="1.35"/>
<text transform="translate(290.3 299.1) scale(0.9 1)" text-anchor="middle" font-size="10.0" >0</text>
<line x1="318.6" y1="287.5" x2="318.6" y2="290.4" stroke="#0c0c0c" stroke-width="1.35"/>
<text transform="translate(318.6 299.1) scale(0.9 1)" text-anchor="middle" font-size="10.0" >1</text>
<line x1="346.8" y1="287.5" x2="346.8" y2="290.4" stroke="#0c0c0c" stroke-width="1.35"/>
<text transform="translate(346.8 299.1) scale(0.9 1)" text-anchor="middle" font-size="10.0" >2</text>
<line x1="375.1" y1="287.5" x2="375.1" y2="290.4" stroke="#0c0c0c" stroke-width="1.35"/>
<text transform="translate(375.1 299.1) scale(0.9 1)" text-anchor="middle" font-size="10.0" >3</text>
<text transform="translate(270.4 233.2) rotate(-90) scale(1.005 1)" text-anchor="middle" font-size="9.9">LDV-FITC Fluorescence</text>
<text transform="translate(370.8 311.2) scale(1.0 1)" text-anchor="start" font-size="9.8" >Time (minutes)</text>
<text transform="translate(299.4 181.4) scale(0.975 1)" text-anchor="start" font-size="9.8" >GFX109203X (1 µM)</text>
<path d="M290.3 264.2L292.3 264.6L294.3 264.8L296.3 263.9L298.3 264.4L300.3 264.4L302.3 264.7L304.2 265.0L306.2 264.6L308.2 264.8L310.2 264.5L312.2 264.6L314.2 264.4L316.2 264.9L318.2 265.3L320.2 265.4L322.2 264.5L324.2 265.1L326.2 264.4L328.2 264.3L330.1 265.1L332.1 264.2L334.1 265.1L336.1 264.1L338.1 264.0L340.1 265.0L342.1 264.4L344.1 264.4L346.1 265.3L348.1 264.7L350.1 265.5L352.1 264.4L354.1 264.6L356.0 264.1L358.0 265.4L360.0 265.1L362.0 264.6L364.0 264.4L366.0 264.9" stroke="#929292" stroke-width="1.3" fill="none" stroke-linejoin="round" stroke-linecap="round"/>
<path d="M301.6 262.4L303.3 263.6L304.9 263.2L306.6 263.2L308.3 262.0L310.0 261.9L311.6 261.4L313.3 263.0L315.0 262.5L316.7 263.3L318.3 263.0L320.0 262.3L321.7 263.3L323.4 263.2L325.0 262.2L326.7 262.4L328.4 263.1L330.1 262.5L331.7 262.0L333.4 263.6L335.1 262.1L336.8 262.1L338.4 262.8L340.1 263.3L341.8 261.5L343.5 262.5L345.1 263.2L346.8 263.2" stroke="#0c0c0c" stroke-width="1.5" fill="none" stroke-linejoin="round" stroke-dasharray="1.25 1.25"/>
<path d="M291.7 260.4L293.4 257.5L295.1 256.7L296.8 254.4L298.5 251.7L300.1 249.1L301.8 247.4L303.5 245.1L305.2 244.0L306.9 241.0L308.6 239.0L310.3 236.0L311.9 234.7L313.6 232.5L315.3 231.5L317.0 230.7L318.7 228.1L320.4 226.8L322.1 226.8L323.7 226.6L325.4 224.9L327.1 224.0L328.8 222.5L330.5 222.0L332.2 221.4L333.9 220.5L335.5 220.2L337.2 220.2L338.9 219.6L340.6 217.0L342.3 216.2L344.0 216.7L345.7 214.9L347.3 214.9L349.0 215.3L350.7 213.2L352.4 212.9L354.1 211.6L355.8 211.5L357.5 212.3L359.1 210.9L360.8 209.8L362.5 209.0L364.2 209.7L365.9 209.0L367.6 208.2L369.2 208.8L370.9 207.1L372.6 206.6L374.3 207.8L376.0 206.5L377.7 206.4L379.4 206.4L381.0 205.2L382.7 204.0L384.4 204.6L386.1 205.7L387.8 205.2L389.5 204.7L391.2 204.4L392.8 205.0" stroke="#828282" stroke-width="2.1" fill="none" stroke-linejoin="round" stroke-linecap="round"/>
<path d="M290.3 264.2L292.0 265.4L293.7 265.7L295.4 266.9L297.1 266.2L298.8 264.6L300.6 261.7L302.3 260.3L304.0 259.0L305.7 257.9L307.4 256.1L309.1 255.2L310.8 254.3L312.5 252.6L314.2 250.3L315.9 249.2L317.6 248.0L319.4 245.1L321.1 244.1L322.8 244.4L324.5 244.3L326.2 244.1L327.9 242.4L329.6 243.6L331.3 242.7L333.0 241.7L334.7 242.9L336.4 242.1L338.2 241.5L339.9 240.3L341.6 241.5L343.3 241.7L345.0 241.9L346.7 242.6L348.4 241.8L350.1 241.7L351.8 242.7L353.5 243.9L355.2 243.1L357.0 243.2L358.7 243.6L360.4 244.5L362.1 244.1L363.8 244.6L365.5 245.1L367.2 245.5L368.9 246.4L370.6 246.5L372.3 246.1L374.0 246.6L375.8 247.5L377.5 247.1L379.2 247.3L380.9 249.1L382.6 249.5L384.3 249.8L386.0 250.5L387.7 249.6L389.4 249.9L391.1 250.4L392.8 250.0" stroke="#0c0c0c" stroke-width="2.5" fill="none" stroke-linejoin="round" stroke-linecap="round"/>
<line x1="414.2" y1="171.8" x2="414.2" y2="288.1" stroke="#0c0c0c" stroke-width="1.35"/>
<line x1="413.6" y1="287.5" x2="516.4" y2="287.5" stroke="#0c0c0c" stroke-width="1.35"/>
<line x1="411.3" y1="287.5" x2="414.2" y2="287.5" stroke="#0c0c0c" stroke-width="1.35"/>
<text transform="translate(409.8 291.1) scale(0.9 1)" text-anchor="end" font-size="10.0" >0</text>
<line x1="411.3" y1="264.5" x2="414.2" y2="264.5" stroke="#0c0c0c" stroke-width="1.35"/>
<text transform="translate(409.8 268.1) scale(0.9 1)" text-anchor="end" font-size="10.0" >1</text>
<line x1="411.3" y1="241.5" x2="414.2" y2="241.5" stroke="#0c0c0c" stroke-width="1.35"/>
<text transform="translate(409.8 245.1) scale(0.9 1)" text-anchor="end" font-size="10.0" >2</text>
<line x1="411.3" y1="218.5" x2="414.2" y2="218.5" stroke="#0c0c0c" stroke-width="1.35"/>
<text transform="translate(409.8 222.1) scale(0.9 1)" text-anchor="end" font-size="10.0" >3</text>
<line x1="411.3" y1="195.5" x2="414.2" y2="195.5" stroke="#0c0c0c" stroke-width="1.35"/>
<text transform="translate(409.8 199.1) scale(0.9 1)" text-anchor="end" font-size="10.0" >4</text>
<line x1="411.3" y1="172.5" x2="414.2" y2="172.5" stroke="#0c0c0c" stroke-width="1.35"/>
<text transform="translate(409.8 176.1) scale(0.9 1)" text-anchor="end" font-size="10.0" >5</text>
<line x1="414.2" y1="287.5" x2="414.2" y2="290.4" stroke="#0c0c0c" stroke-width="1.35"/>
<text transform="translate(414.2 299.1) scale(0.9 1)" text-anchor="middle" font-size="10.0" >0</text>
<line x1="442.4" y1="287.5" x2="442.4" y2="290.4" stroke="#0c0c0c" stroke-width="1.35"/>
<text transform="translate(442.4 299.1) scale(0.9 1)" text-anchor="middle" font-size="10.0" >1</text>
<line x1="470.6" y1="287.5" x2="470.6" y2="290.4" stroke="#0c0c0c" stroke-width="1.35"/>
<text transform="translate(470.6 299.1) scale(0.9 1)" text-anchor="middle" font-size="10.0" >2</text>
<line x1="498.8" y1="287.5" x2="498.8" y2="290.4" stroke="#0c0c0c" stroke-width="1.35"/>
<text transform="translate(498.8 299.1) scale(0.9 1)" text-anchor="middle" font-size="10.0" >3</text>
<text transform="translate(431.8 181.6) scale(0.975 1)" text-anchor="start" font-size="9.8" >PMA Overnight</text>
<path d="M415.6 264.3L417.6 263.9L419.5 264.5L421.5 263.4L423.4 264.4L425.4 264.0L427.4 263.2L429.3 264.1L431.3 263.2L433.2 263.5L435.2 263.8L437.1 263.7L439.1 263.8L441.0 264.2L443.0 263.1L445.0 263.9L446.9 263.0L448.9 263.1L450.8 264.6L452.8 264.5L454.7 264.1L456.7 263.5L458.7 264.7L460.6 264.2L462.6 264.8L464.5 264.3L466.5 264.2L468.4 264.7L470.4 266.0L472.4 265.4L474.3 266.0L476.3 265.5L478.2 266.1L480.2 265.5L482.1 265.2L484.1 265.5L486.1 265.5L488.0 265.5L490.0 265.9L491.9 266.7L493.9 265.3L495.8 266.0L497.8 267.0L499.7 266.4L501.7 266.4L503.7 266.8L505.6 265.6L507.6 267.0L509.5 265.9L511.5 266.4" stroke="#929292" stroke-width="1.3" fill="none" stroke-linejoin="round" stroke-linecap="round"/>
<path d="M415.6 266.4L417.3 268.3L419.0 267.1L420.7 267.4L422.4 266.5L424.1 267.5L425.8 266.5L427.5 268.0L429.2 266.4L430.9 267.4L432.6 268.1L434.4 267.8L436.1 267.1L437.8 268.3L439.5 267.7L441.2 268.4L442.9 268.4L444.6 268.2L446.3 268.0L448.0 267.8L449.7 266.7L451.4 267.3L453.1 266.4L454.8 266.1L456.5 266.1L458.2 265.9L459.9 266.7L461.6 266.6L463.3 266.1L465.0 266.7L466.7 267.6L468.4 267.0L470.1 266.8L471.8 267.4L473.5 267.7L475.2 267.4L476.9 266.1L478.6 265.5L480.4 265.7L482.1 266.1L483.8 267.0L485.5 267.1L487.2 265.7L488.9 265.7L490.6 265.8L492.3 266.4L494.0 266.6L495.7 266.5L497.4 266.6" stroke="#0c0c0c" stroke-width="1.5" fill="none" stroke-linejoin="round" stroke-dasharray="1.25 1.25"/>
<path d="M415.6 259.2L417.3 257.7L419.0 257.6L420.7 256.0L422.3 253.9L424.0 252.7L425.7 249.9L427.4 247.3L429.1 244.6L430.7 243.8L432.4 241.3L434.1 237.1L435.8 235.2L437.5 234.5L439.2 232.0L440.8 231.6L442.5 229.8L444.2 228.1L445.9 227.1L447.6 226.1L449.3 224.3L450.9 223.0L452.6 222.7L454.3 221.2L456.0 219.6L457.7 220.6L459.3 219.6L461.0 219.1L462.7 216.9L464.4 216.3L466.1 215.4L467.8 214.9L469.4 213.0L471.1 212.0L472.8 211.9L474.5 210.4L476.2 211.0L477.8 210.3L479.5 208.4L481.2 209.2L482.9 209.1L484.6 209.0L486.3 207.2L487.9 206.2L489.6 207.4L491.3 206.4L493.0 206.2L494.7 206.0L496.4 206.0L498.0 205.3L499.7 205.3L501.4 203.1L503.1 203.8L504.8 202.7L506.4 201.7L508.1 201.0L509.8 200.7L511.5 200.0" stroke="#828282" stroke-width="2.1" fill="none" stroke-linejoin="round" stroke-linecap="round"/>
<path d="M415.6 261.8L417.3 263.3L419.0 262.6L420.7 261.6L422.3 258.5L424.0 257.7L425.7 256.7L427.4 255.7L429.1 255.0L430.7 252.7L432.4 251.3L434.1 250.4L435.8 250.9L437.5 248.3L439.2 248.3L440.8 247.7L442.5 247.3L444.2 246.9L445.9 245.6L447.6 246.5L449.3 246.7L450.9 244.5L452.6 245.5L454.3 245.4L456.0 244.7L457.7 243.4L459.3 244.1L461.0 244.8L462.7 244.1L464.4 243.9L466.1 244.1L467.8 242.1L469.4 241.9L471.1 243.0L472.8 242.8L474.5 241.0L476.2 241.1L477.8 241.5L479.5 241.2L481.2 240.1L482.9 241.4L484.6 240.6L486.3 241.7L487.9 240.7L489.6 241.0L491.3 240.7L493.0 240.4L494.7 240.2L496.4 239.0L498.0 239.9L499.7 240.6L501.4 238.8L503.1 238.1L504.8 238.0L506.4 239.1L508.1 239.1L509.8 238.5L511.5 240.7" stroke="#0c0c0c" stroke-width="2.5" fill="none" stroke-linejoin="round" stroke-linecap="round"/>
</g>
</svg>
</body></html>
